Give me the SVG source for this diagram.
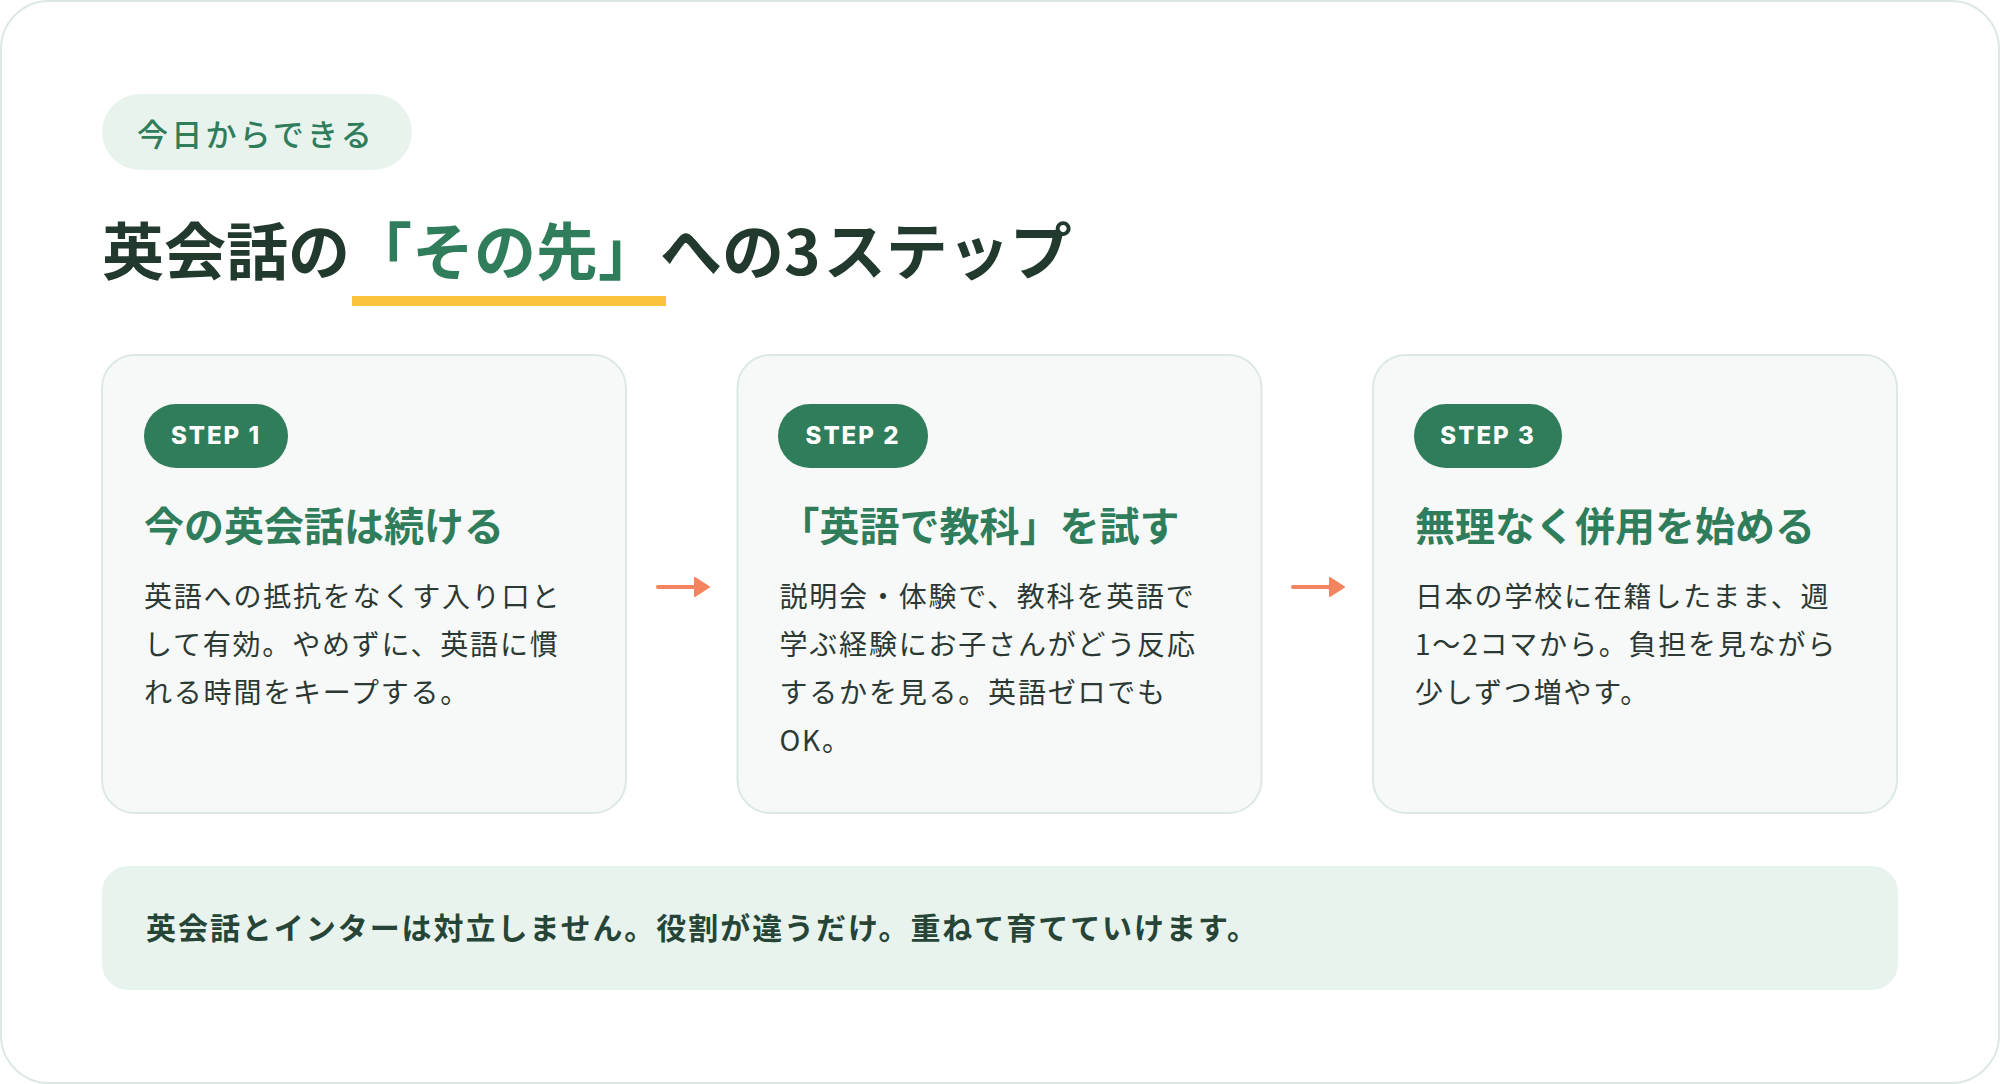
<svg xmlns="http://www.w3.org/2000/svg" width="2000" height="1084" viewBox="0 0 2000 1084">
<style>
.jp{font-family:"Noto Sans CJK JP","Noto Sans",sans-serif}
.card{fill:#f6f9f8;stroke:#dce8e3;stroke-width:2}
.pill{fill:#2f7d5b}
.pilltxt{font-family:Inter,"Noto Sans",sans-serif;font-weight:800;font-size:24px;fill:#ffffff;letter-spacing:2px;text-anchor:middle}
.ctitle{font-family:"Noto Sans CJK JP",sans-serif;font-weight:700;font-size:40px;fill:#2f7d5b}
.body{font-family:"Noto Sans CJK JP",sans-serif;font-weight:400;font-size:28px;fill:#2c3833;letter-spacing:1.8px}
.conn{stroke:#f4845f;stroke-width:4;stroke-linecap:round;fill:none}
</style>
<defs>
<marker id="ah" viewBox="0 0 16 20" refX="1" refY="10" markerWidth="16" markerHeight="20" markerUnits="userSpaceOnUse" orient="auto">
<path d="M1,1 L15,10 L1,19 Z" fill="#f4845f" stroke="#f4845f" stroke-width="2" stroke-linejoin="round"/>
</marker>
</defs>
<rect x="1" y="1" width="1998" height="1082" rx="48" fill="#ffffff" stroke="#dce8e3" stroke-width="2"/>

<g id="badge">
<rect x="102" y="94" width="310" height="76" rx="38" fill="#e8f3ee"/>
<text class="jp" x="137" y="146" font-size="31" font-weight="500" fill="#2f7d5b" letter-spacing="3.2">今日からできる</text>
</g>

<g id="title">
<rect x="352" y="296" width="314" height="10" fill="#fbc33b"/>
<text class="jp" x="102" y="275" font-size="62" font-weight="700" fill="#22392e">英会話の<tspan fill="#2f7d5b">「その先」</tspan>への<tspan letter-spacing="3">3</tspan>ステップ</text>
</g>

<g id="step1">
<rect class="card" x="102" y="355" width="524" height="458" rx="33"/>
<rect class="pill" x="144" y="404" width="144" height="64" rx="32"/>
<text class="pilltxt" x="216" y="444">STEP 1</text>
<text class="ctitle" x="144" y="541">今の英会話は続ける</text>
<text class="body" x="144" y="607">英語への抵抗をなくす入り口と</text>
<text class="body" x="144" y="655">して有効。やめずに、英語に慣</text>
<text class="body" x="144" y="703">れる時間をキープする。</text>
</g>

<g id="step2">
<rect class="card" x="737.5" y="355" width="524" height="458" rx="33"/>
<rect class="pill" x="778" y="404" width="150" height="64" rx="32"/>
<text class="pilltxt" x="853" y="444">STEP 2</text>
<text class="ctitle" x="779.5" y="541">「英語で教科」を試す</text>
<text class="body" x="779.5" y="607">説明会・体験で、教科を英語で</text>
<text class="body" x="779.5" y="655">学ぶ経験にお子さんがどう反応</text>
<text class="body" x="779.5" y="703">するかを見る。英語ゼロでも</text>
<text class="body" x="779.5" y="751">OK。</text>
</g>

<g id="step3">
<rect class="card" x="1373" y="355" width="524" height="458" rx="33"/>
<rect class="pill" x="1414" y="404" width="148" height="64" rx="32"/>
<text class="pilltxt" x="1488" y="444">STEP 3</text>
<text class="ctitle" x="1415" y="541">無理なく併用を始める</text>
<text class="body" x="1415" y="607">日本の学校に在籍したまま、週</text>
<text class="body" x="1415" y="655">1〜2コマから。負担を見ながら</text>
<text class="body" x="1415" y="703">少しずつ増やす。</text>
</g>

<g id="connectors">
<line class="conn" x1="658" y1="587" x2="695" y2="587" marker-end="url(#ah)"/>
<line class="conn" x1="1293" y1="587" x2="1330" y2="587" marker-end="url(#ah)"/>
</g>

<g id="note">
<rect x="102" y="866" width="1796" height="124" rx="26" fill="#e8f3ee"/>
<text class="jp" x="146" y="939" font-size="30" font-weight="700" fill="#264536" letter-spacing="1.95">英会話とインターは対立しません。役割が違うだけ。重ねて育てていけます。</text>
</g>
</svg>
